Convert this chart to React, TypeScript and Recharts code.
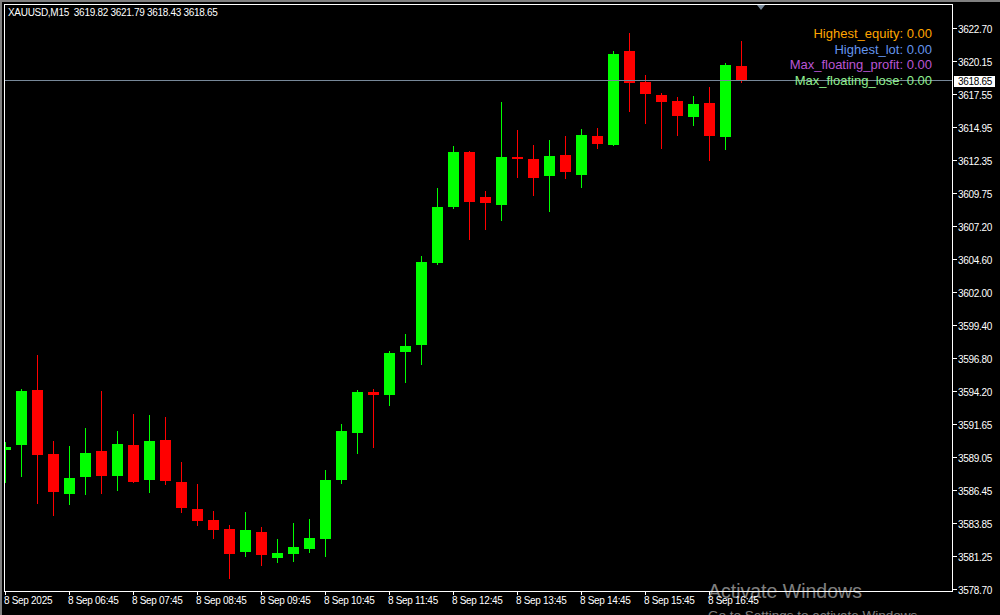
import React from 'react';
import { ComposedChart, Bar, XAxis, YAxis, ReferenceLine } from 'recharts';

// XAUUSD M15, 8 Sep 2025, 05:45 .. 17:15
const OPEN = [
  3589.70, 3590.07, 3594.39, 3589.37, 3586.25, 3587.59, 3589.60, 3587.67, 3590.07, 3587.35,
  3590.47, 3587.17, 3585.05, 3584.19, 3583.49, 3581.70, 3583.25, 3581.23, 3581.55, 3581.94,
  3582.72, 3587.33, 3591.04, 3594.23, 3593.99, 3597.37, 3597.92, 3604.35, 3608.74, 3613.05,
  3609.52, 3608.90, 3612.66, 3612.50, 3611.17, 3612.82, 3611.25, 3614.31, 3613.60, 3620.98,
  3618.54, 3617.52, 3617.05, 3615.80, 3616.90, 3614.23, 3619.82,
];
const HIGH = [
  3590.33, 3594.47, 3597.13, 3590.39, 3590.00, 3591.41, 3594.31, 3591.17, 3592.50, 3592.43,
  3592.27, 3588.74, 3587.01, 3584.90, 3583.80, 3584.82, 3583.64, 3582.70, 3583.96, 3584.27,
  3588.11, 3591.72, 3594.39, 3594.47, 3597.45, 3598.78, 3604.90, 3610.23, 3613.52, 3613.13,
  3609.99, 3616.98, 3614.78, 3613.60, 3613.99, 3614.31, 3614.86, 3614.94, 3620.95, 3622.39,
  3619.09, 3617.68, 3617.37, 3617.45, 3618.15, 3620.03, 3621.79,
];
const LOW = [
  3587.12, 3587.59, 3585.47, 3584.53, 3585.39, 3586.18, 3586.25, 3586.49, 3587.12, 3586.33,
  3586.96, 3584.76, 3583.74, 3582.72, 3579.59, 3581.31, 3580.61, 3580.84, 3580.92, 3581.63,
  3581.31, 3587.01, 3589.37, 3589.84, 3593.13, 3594.94, 3596.35, 3604.19, 3608.58, 3606.15,
  3606.94, 3607.64, 3611.01, 3609.60, 3608.35, 3610.94, 3610.23, 3613.29, 3613.55, 3616.19,
  3615.25, 3613.29, 3614.31, 3615.09, 3612.35, 3613.21, 3618.43,
];
const CLOSE = [
  3589.92, 3594.31, 3589.29, 3586.41, 3587.49, 3589.45, 3587.67, 3590.15, 3587.19, 3590.39,
  3587.27, 3585.16, 3584.14, 3583.43, 3581.55, 3583.41, 3581.47, 3581.60, 3582.07, 3582.78,
  3587.33, 3591.17, 3594.23, 3593.99, 3597.29, 3597.84, 3604.43, 3608.74, 3613.05, 3609.13,
  3609.05, 3612.66, 3612.50, 3611.01, 3612.74, 3611.48, 3614.39, 3613.68, 3620.74, 3618.47,
  3617.60, 3616.98, 3615.88, 3616.82, 3614.31, 3619.85, 3618.65,
];

const X_TICKS = [0, 4, 8, 12, 16, 20, 24, 28, 32, 36, 40, 44];
const X_LABELS = [
  '8 Sep 2025', '8 Sep 06:45', '8 Sep 07:45', '8 Sep 08:45', '8 Sep 09:45', '8 Sep 10:45',
  '8 Sep 11:45', '8 Sep 12:45', '8 Sep 13:45', '8 Sep 14:45', '8 Sep 15:45', '8 Sep 16:45',
];
const Y_TICKS = [
  3622.70, 3620.15, 3617.55, 3614.95, 3612.35, 3609.75, 3607.20, 3604.60, 3602.00,
  3599.40, 3596.80, 3594.20, 3591.65, 3589.05, 3586.45, 3583.85, 3581.25, 3578.70,
];
const BID = 3618.65;

const STATS = [
  { label: 'Highest_equity', value: '0.00', color: '#ffa500' },
  { label: 'Highest_lot', value: '0.00', color: '#6495ed' },
  { label: 'Max_floating_profit', value: '0.00', color: '#ba55d3' },
  { label: 'Max_floating_lose', value: '0.00', color: '#90ee90' },
];

const FONT = '"Liberation Sans", Arial, sans-serif';
const SMALL = { fontSize: 10, fontFamily: FONT, letterSpacing: -0.3 };

const data = OPEN.map((o, i) => ({ i, o, h: HIGH[i], l: LOW[i], c: CLOSE[i] }));

function Candle(props: any) {
  const { x, y, width, height, payload } = props;
  if (height == null || !payload) return null;
  const { o, h, l, c } = payload;
  const k = height / (h - l);
  const py = (v: number) => y + (h - v) * k;
  const cx = Math.floor(x + width / 2) + 0.5;
  const color = c >= o ? '#00ff00' : '#ff0000';
  const top = Math.round(py(Math.max(o, c)));
  const bot = Math.max(top + 1, Math.round(py(Math.min(o, c))));
  return (
    <g>
      <line x1={cx} x2={cx} y1={Math.round(py(h))} y2={Math.round(py(l))}
        stroke={color} shapeRendering="crispEdges" />
      <rect x={cx - 5.5} y={top} width={11} height={bot - top} fill={color} shapeRendering="crispEdges" />
    </g>
  );
}

function XTick(props: any) {
  const { x, y, payload } = props;
  const label = X_LABELS[X_TICKS.indexOf(payload.value)];
  const lx = Math.floor(x - 0.5) + 0.5;
  return (
    <g>
      <line x1={lx} x2={lx} y1={y - 6} y2={y - 2} stroke="#fff" shapeRendering="crispEdges" />
      <text x={lx - 1.5} y={y + 7} fill="#fff" {...SMALL}>{label}</text>
    </g>
  );
}

function YTick(props: any) {
  const { x, y, payload } = props;
  const ly = Math.round(y) - 0.5;
  return (
    <g>
      <line x1={x - 5} x2={x - 1} y1={ly} y2={ly} stroke="#fff" shapeRendering="crispEdges" />
      <text x={x} y={ly + 4} fill="#fff" {...SMALL}>
        {payload.value.toFixed(2)}
      </text>
    </g>
  );
}

function BidTag(props: any) {
  const vb = props.viewBox;
  if (!vb) return null;
  const ty = Math.round(vb.y) - 5;
  const tx = vb.x + vb.width + 2;
  return (
    <g>
      <rect x={tx} y={ty} width={41} height={11} fill="#fff" />
      <text x={tx + 4} y={ty + 9} fill="#000" {...SMALL}>{BID.toFixed(2)}</text>
    </g>
  );
}

const line = (s: React.CSSProperties) => <div style={{ position: 'absolute', background: '#fff', ...s }} />;

export default function App() {
  return (
    <div style={{ position: 'fixed', left: 0, top: 0, width: 1000, height: 615, background: '#000', overflow: 'hidden' }}>
      <ComposedChart width={1000} height={615} data={data} margin={{ top: 4, right: 0, bottom: 0, left: 4 }}>
        <XAxis dataKey="i" type="number" domain={[-0.125, 59.125]} allowDataOverflow ticks={X_TICKS}
          interval={0} height={24} axisLine={false} tickLine={false} tickSize={4} tickMargin={2} tick={<XTick />} />
        <YAxis orientation="right" type="number" domain={[3578.622, 3624.661]} allowDataOverflow ticks={Y_TICKS}
          interval={0} width={48} axisLine={false} tickLine={false} tickSize={4} tickMargin={2} tick={<YTick />} />
        <Bar dataKey={(d: any) => [d.l, d.h]} barSize={11} shape={<Candle />} isAnimationActive={false} />
        <ReferenceLine y={BID} stroke="#778899" shapeRendering="crispEdges" label={<BidTag />} />
      </ComposedChart>

      {/* window chrome + chart frame */}
      <div style={{ position: 'absolute', left: 0, top: 0, width: 1000, height: 2, background: '#808080' }} />
      <div style={{ position: 'absolute', left: 0, top: 0, width: 2, height: 615, background: '#808080' }} />
      {line({ left: 4, top: 4, width: 949, height: 1 })}
      {line({ left: 4, top: 4, width: 1, height: 588 })}
      {line({ left: 952, top: 4, width: 1, height: 588 })}
      {line({ left: 4, top: 591, width: 949, height: 1 })}
      <div style={{ position: 'absolute', left: 757, top: 5, width: 0, height: 0,
        borderLeft: '4.5px solid transparent', borderRight: '4.5px solid transparent', borderTop: '5px solid #778899' }} />

      <div style={{ position: 'absolute', left: 8, top: 7, color: '#fff', fontFamily: FONT, fontSize: 10,
        letterSpacing: -0.3, lineHeight: '12px', whiteSpace: 'pre' }}>
        {'XAUUSD,M15  3619.82 3621.79 3618.43 3618.65'}
      </div>

      <div style={{ position: 'absolute', right: 68, top: 26, textAlign: 'right', fontFamily: FONT,
        fontSize: 13, lineHeight: '15.7px', whiteSpace: 'pre' }}>
        {STATS.map((s) => (
          <div key={s.label} style={{ color: s.color }}>{`${s.label}: ${s.value}`}</div>
        ))}
      </div>

      <div style={{ position: 'absolute', left: 708, top: 581, color: 'rgba(255,255,255,0.5)',
        fontFamily: FONT, fontSize: 19.5, lineHeight: '20px', whiteSpace: 'pre' }}>
        Activate Windows
      </div>
      <div style={{ position: 'absolute', left: 708, top: 608, color: 'rgba(255,255,255,0.5)',
        fontFamily: FONT, fontSize: 13.5, lineHeight: '16px', whiteSpace: 'pre' }}>
        Go to Settings to activate Windows.
      </div>
    </div>
  );
}
